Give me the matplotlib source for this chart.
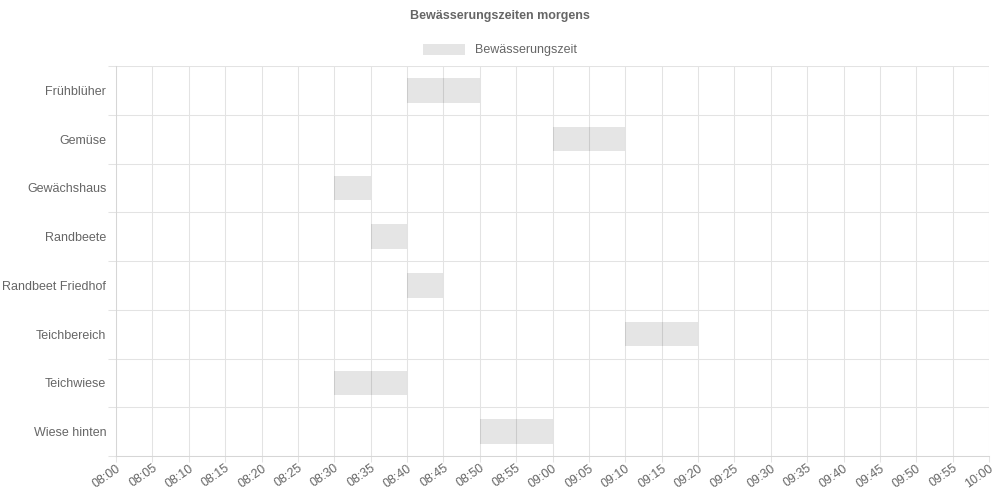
import matplotlib
matplotlib.use("Agg")
import matplotlib.pyplot as plt

plt.rcParams['font.family'] = ['Liberation Sans', 'DejaVu Sans']

# Data: watering windows per area (start, end)
beds = ['Frühblüher', 'Gemüse', 'Gewächshaus', 'Randbeete',
        'Randbeet Friedhof', 'Teichbereich', 'Teichwiese', 'Wiese hinten']
starts = ['08:40', '09:00', '08:30', '08:35', '08:40', '09:10', '08:30', '08:50']
ends = ['08:50', '09:10', '08:35', '08:40', '08:45', '09:20', '08:40', '09:00']
tick_labels = ['08:00', '08:05', '08:10', '08:15', '08:20', '08:25', '08:30',
               '08:35', '08:40', '08:45', '08:50', '08:55', '09:00', '09:05',
               '09:10', '09:15', '09:20', '09:25', '09:30', '09:35', '09:40',
               '09:45', '09:50', '09:55', '10:00']


def to_min(s):
    h, m = s.split(':')
    return int(h) * 60 + int(m)


x0 = to_min(tick_labels[0])
left = [to_min(s) - x0 for s in starts]
width = [to_min(e) - to_min(s) for s, e in zip(starts, ends)]
ticks = [to_min(t) - x0 for t in tick_labels]

grid = '#e3e3e3'
txt = '#666666'
lw = 0.75

fig = plt.figure(figsize=(10, 5), dpi=100)
ax = fig.add_axes([0.116, 0.088, 0.873, 0.78])

ypos = list(range(len(beds)))
ax.barh(ypos, width, left=left, height=0.5, color=(0, 0, 0, 0.1),
        label='Bewässerungszeit', zorder=3)

ax.set_xlim(ticks[0], ticks[-1])
ax.set_ylim(len(beds) - 0.5, -0.5)
ax.set_xticks(ticks)
ax.set_xticklabels(tick_labels, rotation=35, ha='right', rotation_mode='anchor')
ax.set_yticks(ypos)
ax.set_yticklabels(beds)
ax.set_yticks([y + 0.5 for y in range(-1, len(beds))], minor=True)

ax.grid(axis='x', color=grid, linewidth=lw)
ax.grid(axis='y', which='minor', color=grid, linewidth=lw)
ax.tick_params(axis='y', which='major', length=0, pad=7, labelsize=9, labelcolor=txt)
ax.tick_params(axis='y', which='minor', length=6, color=grid, width=lw)
ax.tick_params(axis='x', length=4.5, color=grid, width=lw, labelsize=9, labelcolor=txt, pad=0)
for sp in ['top', 'right']:
    ax.spines[sp].set_visible(False)
for sp in ['left', 'bottom']:
    ax.spines[sp].set_color('#d6d6d6')
    ax.spines[sp].set_linewidth(lw)

fig.text(0.5, 0.968, 'Bewässerungszeiten morgens', ha='center', va='center',
         fontsize=9, fontweight='bold', color=txt)
leg = fig.legend(loc='center', bbox_to_anchor=(0.5, 0.9), frameon=False,
                 handlelength=3.3, handleheight=1.0, fontsize=9, labelcolor=txt)

fig.savefig('out.png', dpi=100)
